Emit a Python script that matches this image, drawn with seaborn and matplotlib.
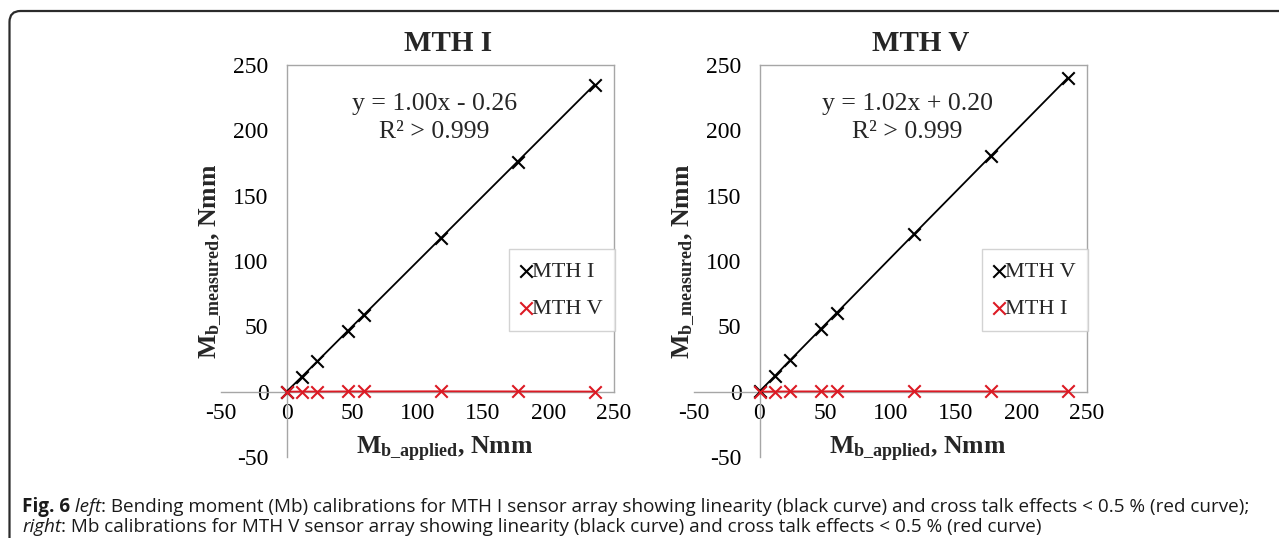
import numpy as np
import pandas as pd
import matplotlib
matplotlib.use('Agg')
import matplotlib.pyplot as plt
from matplotlib.patches import FancyBboxPatch
import seaborn as sns

# --- data ---
applied = [0, 11.8, 23.5, 47.0, 58.8, 117.6, 176.4, 235.2]
mth1_self = [0, 11.5, 23.2, 46.8, 58.5, 117.3, 176.1, 235.0]
mth1_cross = [0.0, 0.1, 0.1, 0.2, 0.2, 0.3, 0.2, 0.1]
mth5_self = [0.2, 12.1, 24.2, 48.2, 60.2, 120.3, 180.2, 240.0]
mth5_cross = [0.0, 0.1, 0.2, 0.2, 0.3, 0.3, 0.2, 0.2]

panel_titles = ['MTH I', 'MTH V']
fit_labels = ['y = 1.00x - 0.26', 'y = 1.02x + 0.20']
legend_names = [('MTH I', 'MTH V'), ('MTH V', 'MTH I')]
ticks = [-50, 0, 50, 100, 150, 200, 250]

df = pd.DataFrame({
    'applied': applied * 4,
    'measured': mth1_self + mth1_cross + mth5_self + mth5_cross,
    'panel': ['MTH I'] * 16 + ['MTH V'] * 16,
    'kind': (['self'] * 8 + ['cross'] * 8) * 2,
})

sns.set_theme(style='white')
plt.rcParams['font.family'] = ['Liberation Serif', 'DejaVu Serif']
plt.rcParams['mathtext.fontset'] = 'custom'
plt.rcParams['mathtext.rm'] = 'Liberation Serif'
plt.rcParams['mathtext.bf'] = 'Liberation Serif:bold'
plt.rcParams['mathtext.it'] = 'Liberation Serif:italic'
plt.rcParams['axes.unicode_minus'] = False

W, H = 1279, 538
fig = plt.figure(figsize=(W / 100, H / 100), dpi=100)
fig.patch.set_facecolor('white')

gray = '#a6a6a6'
red = '#dc1a24'
lefts = [221, 694]

for i, panel in enumerate(panel_titles):
    ax = fig.add_axes([lefts[i] / W, 1 - 457 / H, 393 / W, 392 / H])
    ax.set_facecolor('none')
    sub = df[df['panel'] == panel]
    colors = {'self': 'black', 'cross': red}
    names = {'self': legend_names[i][0], 'cross': legend_names[i][1]}
    for kind in ['self', 'cross']:
        d = sub[sub['kind'] == kind]
        sns.lineplot(data=d, x='applied', y='measured', color=colors[kind],
                     lw=1.3, legend=False, ax=ax, zorder=3)
        sns.scatterplot(data=d, x='applied', y='measured', color=colors[kind],
                        marker='x', s=80, linewidth=1.5, label=names[kind],
                        ax=ax, zorder=4, clip_on=False)

    ax.set_xlim(-50, 250)
    ax.set_ylim(-50, 250)
    ax.set_xticks(ticks)
    ax.set_yticks(ticks)
    ax.tick_params(which='major', length=0, labelsize=17, colors='black')
    ax.tick_params(axis='x', which='major', pad=8)
    ax.tick_params(axis='y', which='major', pad=13)
    ax.set_xticks([-50, 250], minor=True)
    ax.set_yticks([-50, 250], minor=True)
    ax.tick_params(which='minor', length=5, width=1, color=gray, direction='out')

    ax.spines['left'].set_position(('data', 0))
    ax.spines['bottom'].set_position(('data', 0))
    ax.spines['top'].set_bounds(0, 250)
    ax.spines['right'].set_bounds(0, 250)
    for sp in ax.spines.values():
        sp.set_color(gray)
        sp.set_linewidth(1)

    ax.set_xlabel('')
    ax.set_ylabel('')
    ax.text(0.569, 0.018, r'M$_{\mathbf{b\_applied}}$, Nmm', transform=ax.transAxes,
            ha='center', va='center', fontsize=18.5, fontweight='bold')
    ax.text(-0.028, 0.5, r'M$_{\mathbf{b\_measured}}$, Nmm', transform=ax.transAxes,
            ha='center', va='center', fontsize=18.5, fontweight='bold', rotation=90)

    ax.text(0.578, 1.055, panel, transform=ax.transAxes, ha='center', va='center',
            fontsize=21, fontweight='bold')
    ax.text(113, 220.5, fit_labels[i], ha='center', va='center', fontsize=18.5)
    ax.text(113, 199, 'R² > 0.999', ha='center', va='center', fontsize=18.5)

    leg = ax.legend(loc='upper left', bbox_to_anchor=(0.732, 0.531), frameon=True,
                    fancybox=False, edgecolor='#c8c8c8', fontsize=16,
                    handletextpad=0.0, labelspacing=0.75, borderpad=0.55,
                    handlelength=0.5, borderaxespad=0)
    leg.get_frame().set_linewidth(1)

# rounded frame around the figure
frame = FancyBboxPatch((9.5, -30), 1320, H - 11 + 30,
                       boxstyle='round,pad=0,rounding_size=11',
                       transform=None, facecolor='none', edgecolor='#2b2b2b',
                       lw=1.6, zorder=0)
fig.patches.append(frame)

# caption
cap_family = ['Open Sans', 'DejaVu Sans']
renderer = fig.canvas.get_renderer()
lines = [
    [('Fig. 6', 'bold', 'normal'), (' left', 'normal', 'italic'),
     (': Bending moment (Mb) calibrations for MTH I sensor array showing linearity '
      '(black curve) and cross talk effects < 0.5 % (red curve);', 'normal', 'normal')],
    [('right', 'normal', 'italic'),
     (': Mb calibrations for MTH V sensor array showing linearity (black curve) '
      'and cross talk effects < 0.5 % (red curve)', 'normal', 'normal')],
]


def draw_line(parts, ypx, size):
    x = 22
    made = []
    for txt, weight, style in parts:
        t = fig.text(x / W, 1 - ypx / H, txt, family=cap_family, fontsize=size,
                     fontweight=weight, fontstyle=style, color='#1a1a1a',
                     ha='left', va='baseline')
        x += t.get_window_extent(renderer=renderer).width
        made.append(t)
    return made, x - 22


# size the caption so the first line spans the same width as in the reference
probe, width = draw_line(lines[0], 505, 12)
for t in probe:
    t.remove()
cap_size = 12 * 1222 / width
for parts, ypx in zip(lines, [512, 532]):
    draw_line(parts, ypx, cap_size)

fig.savefig('out.png', dpi=100)
